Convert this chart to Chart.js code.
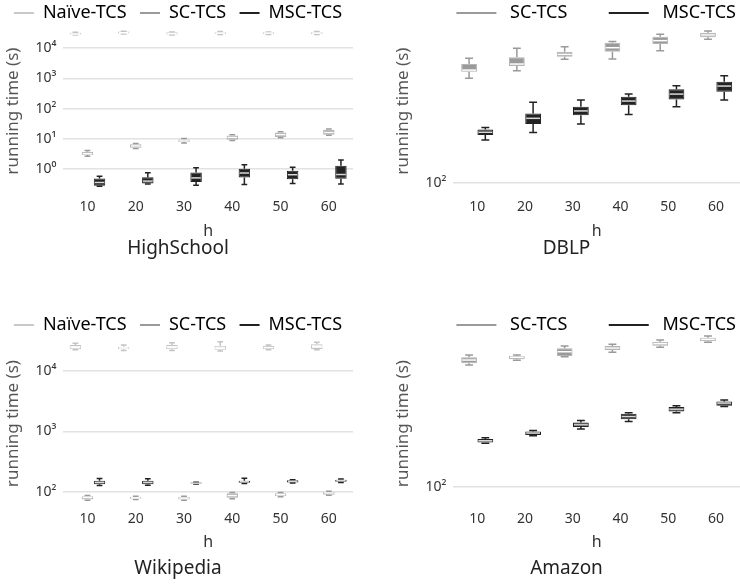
<!DOCTYPE html>
<html>
<head>
<meta charset="utf-8">
<script src="https://cdn.jsdelivr.net/npm/chart.js@4.4.1/dist/chart.umd.min.js"></script>
<style>
  body { margin: 0; background: #fff; width: 740px; height: 584px; position: relative; overflow: hidden; }
  .panel { position: absolute; }
</style>
</head>
<body>
<div class="panel" style="left:0;top:0"><canvas id="highschool" width="370" height="262"></canvas></div>
<div class="panel" style="left:370px;top:0"><canvas id="dblp" width="370" height="262"></canvas></div>
<div class="panel" style="left:0;top:312px"><canvas id="wikipedia" width="370" height="272"></canvas></div>
<div class="panel" style="left:370px;top:312px"><canvas id="amazon" width="370" height="272"></canvas></div>
<script>
// categories (h)
const hValues = ['10', '20', '30', '40', '50', '60'];

// each entry: [min, q1, median, q3, max] running time in seconds, one per h
const highSchoolNaive = [[2.7e4, 2.8e4, 2.9e4, 3.2e4, 3.3e4], [2.9e4, 3.0e4, 3.2e4, 3.5e4, 3.6e4], [2.7e4, 2.8e4, 3.0e4, 3.3e4, 3.4e4],
                         [2.8e4, 2.9e4, 3.1e4, 3.3e4, 3.5e4], [2.8e4, 2.9e4, 3.1e4, 3.3e4, 3.4e4], [2.8e4, 2.9e4, 3.1e4, 3.3e4, 3.5e4]];
const highSchoolSC = [[2.65, 2.9, 3.2, 3.7, 4.1], [4.75, 5.1, 5.8, 6.6, 7.0], [7.2, 7.8, 8.5, 9.4, 10.3],
                      [8.8, 9.3, 11, 12.9, 13.5], [10.8, 11.4, 13.6, 16.2, 17], [13, 13.6, 16.2, 20, 21]];
const highSchoolMSC = [[0.27, 0.28, 0.36, 0.49, 0.58], [0.32, 0.33, 0.40, 0.54, 0.75], [0.29, 0.37, 0.51, 0.77, 1.1],
                       [0.31, 0.53, 0.74, 1.02, 1.39], [0.33, 0.46, 0.65, 0.88, 1.14], [0.32, 0.48, 0.66, 1.29, 2.0]];

const dblpSC = [[458, 504, 516, 563, 612], [511, 547, 563, 621, 708], [603, 626, 648, 673, 724],
                [606, 673, 714, 768, 780], [684, 754, 791, 837, 867], [807, 830, 859, 888, 910]];
const dblpMSC = [[187, 201, 209, 218, 224], [208, 236, 256, 275, 323], [236, 268, 285, 303, 334],
                 [271, 310, 329, 350, 364], [303, 337, 364, 390, 411], [334, 377, 409, 436, 475]];

const wikiNaive = [[2.23e4, 2.28e4, 2.47e4, 2.69e4, 2.87e4], [2.17e4, 2.28e4, 2.40e4, 2.52e4, 2.69e4], [2.17e4, 2.28e4, 2.49e4, 2.69e4, 2.94e4],
                   [2.14e4, 2.23e4, 2.37e4, 2.62e4, 3.05e4], [2.25e4, 2.31e4, 2.43e4, 2.59e4, 2.68e4], [2.23e4, 2.31e4, 2.52e4, 2.76e4, 2.98e4]];
const wikiSC = [[72, 74, 80, 84, 86], [74, 76, 79, 82, 84], [72, 74, 78, 82, 84],
                [76, 79, 86, 94, 97], [82, 84, 89, 94, 97], [87, 89, 95, 99, 101]];
const wikiMSC = [[126, 132, 142, 152, 165], [128, 132, 142, 152, 164], [134, 136, 138, 141, 143],
                 [136, 140, 146, 152, 166], [139, 142, 148, 155, 158], [142, 146, 152, 158, 162]];

const amazonSC = [[612, 628, 659, 687, 711], [656, 667, 687, 700, 711], [693, 700, 746, 785, 812],
                  [740, 765, 788, 812, 833], [797, 816, 841, 866, 888], [858, 871, 897, 919, 942]];
const amazonMSC = [[191, 193, 198, 203, 207], [213, 216, 222, 227, 231], [236, 243, 251, 260, 268],
                   [264, 273, 284, 296, 301], [301, 306, 317, 327, 333], [330, 333, 347, 355, 364]];

Chart.defaults.font.family = '"Noto Sans", "Open Sans", "DejaVu Sans", sans-serif';
Chart.defaults.color = '#333';

const styles = {
    naive: { label: 'Naïve-TCS', fill: '#eeeeee', edge: '#c4c4c4', whisker: '#c4c4c4', median: '#ffffff', legend: '#c8c8c8' },
    sc:    { label: 'SC-TCS', fill: '#9a9a9a', edge: '#b4b4b4', whisker: '#9a9a9a', median: '#ffffff', legend: '#9a9a9a' },
    msc:   { label: 'MSC-TCS', fill: '#222222', edge: '#222222', whisker: '#222222', median: '#d8d8d8', legend: '#222222' }
};

const supDigits = { '0': '⁰', '1': '¹', '2': '²', '3': '³', '4': '⁴', '5': '⁵', '-': '⁻' };

// draws whiskers (below boxes) and medians (above boxes) using the chart's own scales
const boxWhiskerPlugin = {
    id: 'boxWhisker',
    beforeDatasetsDraw(chart) { drawParts(chart, 'whisker'); },
    afterDatasetsDraw(chart) { drawParts(chart, 'median'); }
};

function drawParts(chart, part) {
    const ctx = chart.ctx;
    const yScale = chart.scales.y;
    ctx.save();
    chart.data.datasets.forEach((ds, i) => {
        const meta = chart.getDatasetMeta(i);
        meta.data.forEach((bar, j) => {
            const s = ds.stats[j];
            const half = bar.width / 2;
            ctx.beginPath();
            if (part === 'whisker') {
                const yMin = yScale.getPixelForValue(s[0]);
                const yQ1 = yScale.getPixelForValue(s[1]);
                const yQ3 = yScale.getPixelForValue(s[3]);
                const yMax = yScale.getPixelForValue(s[4]);
                ctx.strokeStyle = ds.whiskerColor;
                ctx.lineWidth = 1.5;
                ctx.moveTo(bar.x, yQ3); ctx.lineTo(bar.x, yMax);
                ctx.moveTo(bar.x, yQ1); ctx.lineTo(bar.x, yMin);
                ctx.moveTo(bar.x - half * 0.5, yMax); ctx.lineTo(bar.x + half * 0.5, yMax);
                ctx.moveTo(bar.x - half * 0.5, yMin); ctx.lineTo(bar.x + half * 0.5, yMin);
            } else {
                const yMed = yScale.getPixelForValue(s[2]);
                ctx.strokeStyle = ds.medianColor;
                ctx.lineWidth = 1.5;
                ctx.moveTo(bar.x - half + 1, yMed); ctx.lineTo(bar.x + half - 1, yMed);
            }
            ctx.stroke();
        });
    });
    ctx.restore();
}

function makeDataset(key, stats, three) {
    const st = styles[key];
    return {
        label: st.label,
        data: stats.map(s => [s[1], s[3]]),
        stats: stats,
        backgroundColor: st.fill,
        borderColor: st.edge,
        borderWidth: 1,
        borderSkipped: false,
        clip: false,
        categoryPercentage: three ? 0.75 : 0.68,
        barPercentage: three ? 0.95 : 0.97,
        whiskerColor: st.whisker,
        medianColor: st.median,
        legendColor: st.legend
    };
}

function makeChart(id, title, series, yMin, yMax, o) {
    const three = series.length === 3;
    const datasets = series.map(s => makeDataset(s[0], s[1], three));
    return new Chart(document.getElementById(id), {
        type: 'bar',
        data: { labels: hValues, datasets: datasets },
        plugins: [boxWhiskerPlugin],
        options: {
            responsive: false,
            animation: false,
            layout: { padding: { left: o.padLeft, right: o.padRight, top: 0, bottom: o.padBottom } },
            plugins: {
                tooltip: { enabled: false },
                legend: {
                    position: 'top',
                    align: o.legendAlign,
                    labels: {
                        boxWidth: o.boxWidth,
                        boxHeight: 2,
                        padding: 4,
                        color: '#444',
                        font: { size: 18 },
                        generateLabels(chart) {
                            const ds = chart.data.datasets;
                            return ds.map((d, i) => ({
                                text: o.lead + d.label + (i < ds.length - 1 ? o.trail : ''),
                                fillStyle: d.legendColor,
                                strokeStyle: d.legendColor,
                                lineWidth: 0,
                                datasetIndex: i,
                                hidden: false
                            }));
                        }
                    }
                },
                title: {
                    display: true,
                    position: 'bottom',
                    text: title,
                    color: '#222',
                    font: { size: 19, weight: 'normal', lineHeight: 1 },
                    padding: { top: o.titlePadTop, bottom: 0 }
                }
            },
            scales: {
                x: {
                    grid: { display: false, drawTicks: false },
                    border: { display: false },
                    ticks: { color: '#333', font: { size: 14 }, padding: o.xTickPad },
                    title: { display: true, text: 'h', color: '#333', font: { size: 16, lineHeight: 1 }, padding: { top: 0, bottom: 0 } }
                },
                y: {
                    type: 'logarithmic',
                    min: yMin,
                    max: yMax,
                    afterBuildTicks(axis) {
                        const ticks = [];
                        for (let e = -3; e <= 6; e++) {
                            const v = Math.pow(10, e);
                            if (v >= axis.min && v <= axis.max) ticks.push({ value: v });
                        }
                        axis.ticks = ticks;
                    },
                    grid: { color: '#e2e2e2', lineWidth: 1.5, drawTicks: false },
                    border: { display: false },
                    ticks: {
                        color: '#333',
                        font: { size: 14 },
                        padding: 7,
                        callback(value) {
                            const e = Math.round(Math.log10(value));
                            return '10' + String(e).split('').map(c => supDigits[c]).join('');
                        }
                    },
                    title: { display: true, text: 'running time (s)', color: '#555', font: { size: 17 }, padding: { top: 0, bottom: 5 } }
                }
            }
        }
    });
}

const leftTop = { padLeft: 3, padRight: 17, padBottom: 4, legendAlign: 'center', boxWidth: 20, lead: '', trail: '  ', titlePadTop: 0, xTickPad: 8 };
const rightTop = { padLeft: 23, padRight: 0, padBottom: 4, legendAlign: 'end', boxWidth: 40, lead: ' ', trail: '        ', titlePadTop: 0, xTickPad: 8 };
const leftBottom = Object.assign({}, leftTop, { padBottom: 6, titlePadTop: 9, xTickPad: 7 });
const rightBottom = Object.assign({}, rightTop, { padBottom: 6, titlePadTop: 9, xTickPad: 7 });

makeChart('highschool', 'HighSchool',
    [['naive', highSchoolNaive], ['sc', highSchoolSC], ['msc', highSchoolMSC]],
    0.2, 3.38e4, leftTop);
makeChart('dblp', 'DBLP',
    [['sc', dblpSC], ['msc', dblpMSC]],
    90.1, 897, rightTop);
makeChart('wikipedia', 'Wikipedia',
    [['naive', wikiNaive], ['sc', wikiSC], ['msc', wikiMSC]],
    64.3, 2.79e4, leftBottom);
makeChart('amazon', 'Amazon',
    [['sc', amazonSC], ['msc', amazonMSC]],
    78.1, 837, rightBottom);
</script>
</body>
</html>
